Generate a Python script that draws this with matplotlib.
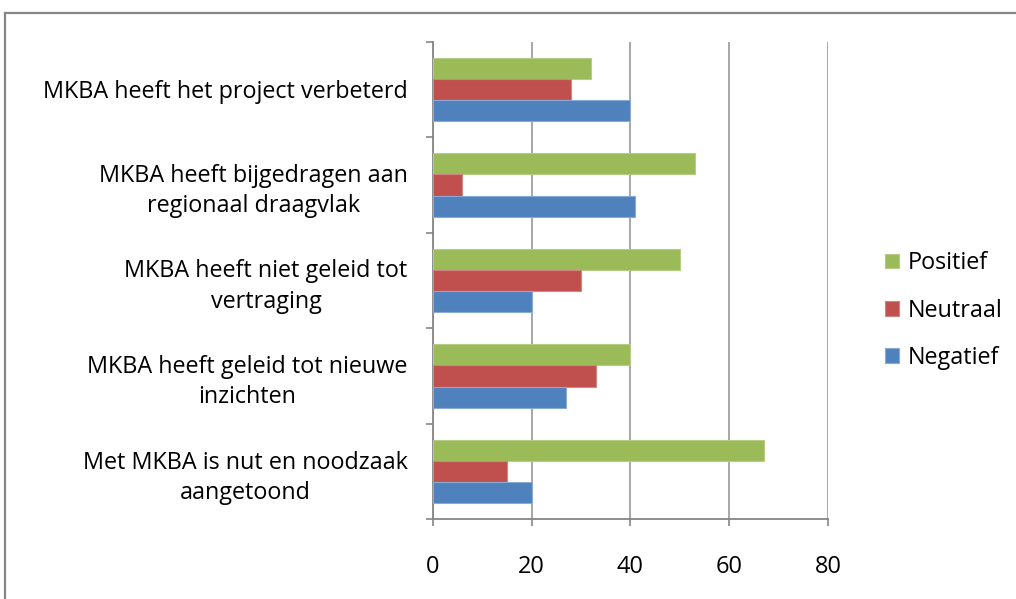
import matplotlib.pyplot as plt
import numpy as np

categories = ['MKBA heeft het project verbeterd',
              'MKBA heeft bijgedragen aan\nregionaal draagvlak',
              'MKBA heeft niet geleid tot\nvertraging',
              'MKBA heeft geleid tot nieuwe\ninzichten',
              'Met MKBA is nut en noodzaak\naangetoond']
positief = [32, 53, 50, 40, 67]
neutraal = [28, 6, 30, 33, 15]
negatief = [40, 41, 20, 27, 20]

plt.rcParams['font.family'] = ['Open Sans', 'DejaVu Sans']

fig = plt.figure(figsize=(10.16, 5.99), dpi=100)
ax = fig.add_axes([432.7 / 1016, 1 - 519.3 / 599, (828 - 432.7) / 1016, (519.3 - 41.7) / 599])

# outer frame (only top and left visible in the crop)
fig.add_artist(plt.Line2D([5 / 1016, 5 / 1016], [0, 1 - 13 / 599], color='#868686', lw=1.6))
fig.add_artist(plt.Line2D([5 / 1016, 1], [1 - 13 / 599, 1 - 13 / 599], color='#868686', lw=1.6))

n = len(categories)
y = np.arange(n)[::-1].astype(float)  # first category on top
h = 0.222

ax.barh(y + h, positief, height=h, color='#9BBB59', edgecolor='#B5CC85', lw=0.8, label='Positief', zorder=3)
ax.barh(y, neutraal, height=h, color='#C0504D', edgecolor='#D08583', lw=0.8, label='Neutraal', zorder=3)
ax.barh(y - h, negatief, height=h, color='#4F81BD', edgecolor='#8AAAD3', lw=0.8, label='Negatief', zorder=3)

ax.set_xlim(0, 80)
ax.set_ylim(-0.5, n - 0.5)
ax.set_xticks([0, 20, 40, 60, 80])
ax.xaxis.grid(True, color='#A0A0A0', lw=1.3)
ax.set_axisbelow(True)

ax.set_yticks(y)
ax.set_yticklabels(categories, fontsize=16.8)
for lab in ax.get_yticklabels():
    lab.set_multialignment('center')
    lab.set_linespacing(1.35)
ax.set_yticks(np.arange(n + 1) - 0.5, minor=True)
ax.tick_params(axis='y', which='major', length=0, pad=18)
ax.tick_params(axis='y', which='minor', length=5, color='#868686', width=1.2, direction='out')
ax.tick_params(axis='x', length=5, color='#868686', width=1.2, labelsize=17, pad=21)

for s in ['top', 'right']:
    ax.spines[s].set_visible(False)
for s in ['left', 'bottom']:
    ax.spines[s].set_color('#868686')
    ax.spines[s].set_linewidth(1.3)

ax.legend(loc='center left', bbox_to_anchor=(1.09, 0.437), frameon=False, fontsize=16.8,
          handlelength=0.6, handleheight=0.6, handletextpad=0.4, labelspacing=1.0)

plt.savefig('out.png')
